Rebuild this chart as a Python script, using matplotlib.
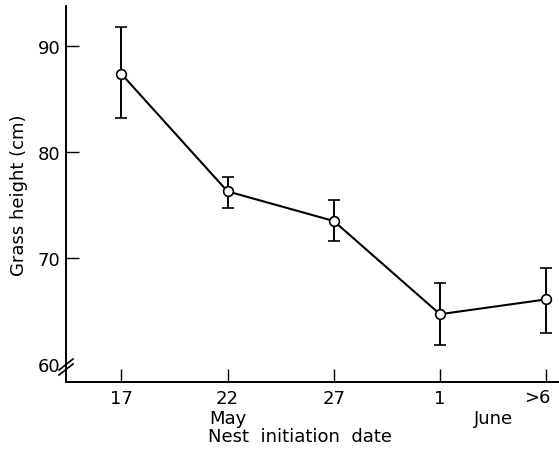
import matplotlib
matplotlib.use("Agg")
import matplotlib.pyplot as plt
import matplotlib.transforms as mtransforms
import numpy as np

dates = ["17", "22", "27", "1", ">6"]
means = [87.4, 76.3, 73.5, 64.7, 66.1]
upper = [91.8, 77.7, 75.5, 67.6, 69.1]
lower = [83.2, 74.7, 71.6, 61.8, 62.9]
yticks = [60, 70, 80, 90]

plt.rcParams['font.family'] = ['DejaVu Sans']
FS = 13
fig = plt.figure(figsize=(5.59, 4.52), dpi=100)
ax = fig.add_axes([66/559, 69/452, 1 - 66/559, (383-7)/452])

x = np.arange(len(dates))
m = np.array(means)
yerr = [m - np.array(lower), np.array(upper) - m]
ax.errorbar(x, m, yerr=yerr, color='black', lw=1.5, elinewidth=1.4, capsize=4,
            capthick=1.4, marker='o', ms=7, mfc='white', mec='black', mew=1.2, zorder=3)

ax.set_xlim(-0.52, 4.12)
ax.set_ylim(58.3, 93.8)
ax.spines['top'].set_visible(False)
ax.spines['right'].set_visible(False)
ax.spines['left'].set_linewidth(1.4)
ax.spines['bottom'].set_linewidth(1.4)

ax.set_xticks(x)
ax.set_xticklabels(dates[:-1] + [""], fontsize=FS)
# last label shifted left so it stays inside the figure
off = mtransforms.ScaledTranslation(-9/100, 0, fig.dpi_scale_trans)
ax.text(x[-1], -0.04, dates[-1], transform=ax.get_xaxis_transform() + off,
        ha='center', va='center', fontsize=FS)
ax.set_yticks(yticks)
ax.set_yticklabels([str(v) for v in yticks], fontsize=FS)
ax.tick_params(axis='both', direction='in', length=9.5, width=1.0, pad=5)
ax.tick_params(axis='y', pad=4)
ax.yaxis.get_major_ticks()[0].tick1line.set_visible(False)

ax.set_ylabel("Grass height (cm)", fontsize=FS, labelpad=7)

# month labels
ax.text(1, -0.097, "May", transform=ax.get_xaxis_transform(), ha='center', va='center', fontsize=FS)
ax.text(3.5, -0.097, "June", transform=ax.get_xaxis_transform(), ha='center', va='center', fontsize=FS)
fig.text(300/559, 1 - 437/452, "Nest  initiation  date", ha='center', va='center', fontsize=FS)

# axis break marks
for dy in (0, 5):
    fig.add_artist(plt.Line2D([59/559, 73/559], [1 - (376 - dy)/452, 1 - (365 - dy)/452],
                              color='black', lw=1.2))

fig.savefig("out.png", dpi=100)
